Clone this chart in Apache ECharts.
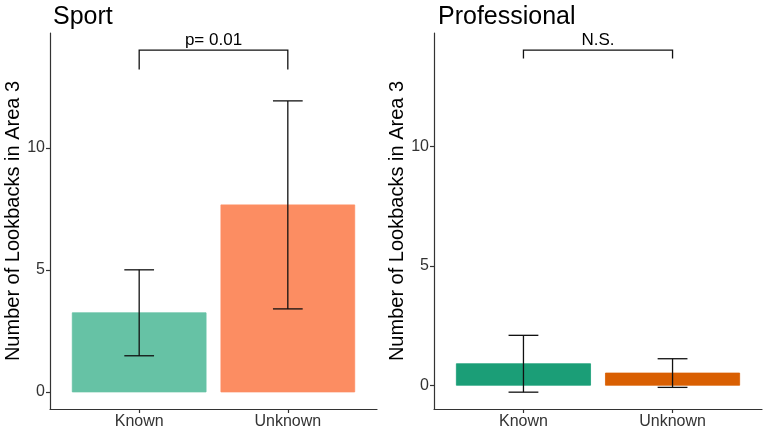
<!DOCTYPE html>
<html>
<head>
<meta charset="utf-8">
<script src="https://cdn.jsdelivr.net/npm/echarts@6/dist/echarts.min.js"></script>
<style>html,body{margin:0;padding:0;background:#fff}#c{width:765px;height:430px}</style>
</head>
<body>
<div id="c"></div>
<script>
const categories = ['Known', 'Unknown'];
const panelTitles = ['Sport', 'Professional'];
const sportMeans = [3.24, 7.66];
const sportErr = [1.76, 4.26];
const profMeans = [0.90, 0.51];
const profErr = [1.19, 0.60];
const yTicks = [0, 5, 10];
const sportBracket = [1, 2, 13.2, 14.0];
const profBracket = [1, 2, 13.68, 14.03];
const bracketLabels = ['p= 0.01', 'N.S.'];
const yAxisTitle = 'Number of Lookbacks in Area 3';

const sportColors = ['#66C2A5', '#FC8D62'];
const profColors = ['#1B9E77', '#D95F02'];
const FONT = 'Liberation Sans, Arial, sans-serif';

const chart = echarts.init(document.getElementById('c'));

function barSeries(idx, means, colors) {
  return {
    type: 'custom', xAxisIndex: idx, yAxisIndex: idx,
    data: means.map((m, i) => [i + 1, m]),
    renderItem: function (params, api) {
      const x = api.value(0), y = api.value(1);
      const p0 = api.coord([x - 0.45, y]);
      const p1 = api.coord([x + 0.45, 0]);
      return {
        type: 'rect',
        shape: { x: p0[0], y: p0[1], width: p1[0] - p0[0], height: p1[1] - p0[1] },
        style: { fill: colors[params.dataIndex], stroke: colors[params.dataIndex], lineWidth: 0.8 }
      };
    },
    silent: true, z: 2
  };
}
function errSeries(idx, means, errs) {
  return {
    type: 'custom', xAxisIndex: idx, yAxisIndex: idx,
    data: means.map((m, i) => [i + 1, m - errs[i], m + errs[i]]),
    renderItem: function (params, api) {
      const x = api.value(0), lo = api.value(1), hi = api.value(2);
      const a = api.coord([x, lo]), b = api.coord([x, hi]);
      const cl = api.coord([x - 0.1, lo]), cr = api.coord([x + 0.1, lo]);
      const tl = api.coord([x - 0.1, hi]), tr = api.coord([x + 0.1, hi]);
      const st = { stroke: '#111', lineWidth: 1.3 };
      return { type: 'group', children: [
        { type: 'line', shape: { x1: a[0], y1: a[1], x2: b[0], y2: b[1] }, style: st },
        { type: 'line', shape: { x1: cl[0], y1: cl[1], x2: cr[0], y2: cr[1] }, style: st },
        { type: 'line', shape: { x1: tl[0], y1: tl[1], x2: tr[0], y2: tr[1] }, style: st }
      ]};
    },
    silent: true, z: 3
  };
}
function bracketSeries(idx, br, label) {
  return {
    type: 'custom', xAxisIndex: idx, yAxisIndex: idx,
    data: [br],
    renderItem: function (params, api) {
      const x1 = api.value(0), x2 = api.value(1), yb = api.value(2), yt = api.value(3);
      const p1 = api.coord([x1, yb]), p2 = api.coord([x1, yt]), p3 = api.coord([x2, yt]), p4 = api.coord([x2, yb]);
      return { type: 'group', children: [
        { type: 'polyline', shape: { points: [p1, p2, p3, p4] }, style: { stroke: '#111', lineWidth: 1.3, fill: null } },
        { type: 'text', x: (p2[0] + p3[0]) / 2, y: p2[1] - 1,
          style: { text: label, fontFamily: FONT, fontSize: 17, fill: '#000', align: 'center', verticalAlign: 'bottom' } }
      ]};
    },
    silent: true, z: 3
  };
}

function xAxis(idx) {
  return {
    type: 'value', gridIndex: idx, min: 0.4, max: 2.6,
    axisLine: { show: true, onZero: false, lineStyle: { color: '#333', width: 1.2 } },
    axisTick: { show: true, length: 4, customValues: [1, 2], lineStyle: { color: '#333', width: 1.2 } },
    axisLabel: { customValues: [1, 2], formatter: v => categories[Math.round(v) - 1],
      fontFamily: FONT, fontSize: 16, color: '#333', margin: 5 },
    splitLine: { show: false }
  };
}
function yAxis(idx, min, max) {
  return {
    type: 'value', gridIndex: idx, min: min, max: max,
    name: yAxisTitle, nameLocation: 'middle', nameGap: 27,
    nameTextStyle: { fontFamily: FONT, fontSize: 20, color: '#000' },
    axisLine: { show: true, onZero: false, lineStyle: { color: '#333', width: 1.2 } },
    axisTick: { show: true, length: 4, customValues: yTicks, lineStyle: { color: '#333', width: 1.2 } },
    axisLabel: { customValues: yTicks, fontFamily: FONT, fontSize: 16, color: '#333', margin: 5 },
    splitLine: { show: false }
  };
}

chart.setOption({
  animation: false,
  backgroundColor: '#fff',
  title: [
    { text: panelTitles[0], left: 48, top: 0, textStyle: { fontFamily: FONT, fontSize: 25, fontWeight: 'normal', color: '#000' } },
    { text: panelTitles[1], left: 433, top: 0, textStyle: { fontFamily: FONT, fontSize: 25, fontWeight: 'normal', color: '#000' } }
  ],
  grid: [
    { left: 50, right: 388, top: 33, bottom: 21 },
    { left: 434, right: 3, top: 33, bottom: 21 }
  ],
  xAxis: [xAxis(0), xAxis(1)],
  yAxis: [yAxis(0, -0.7, 14.7), yAxis(1, -0.995, 14.75)],
  series: [
    barSeries(0, sportMeans, sportColors),
    errSeries(0, sportMeans, sportErr),
    bracketSeries(0, sportBracket, bracketLabels[0]),
    barSeries(1, profMeans, profColors),
    errSeries(1, profMeans, profErr),
    bracketSeries(1, profBracket, bracketLabels[1])
  ]
});
</script>
</body>
</html>
